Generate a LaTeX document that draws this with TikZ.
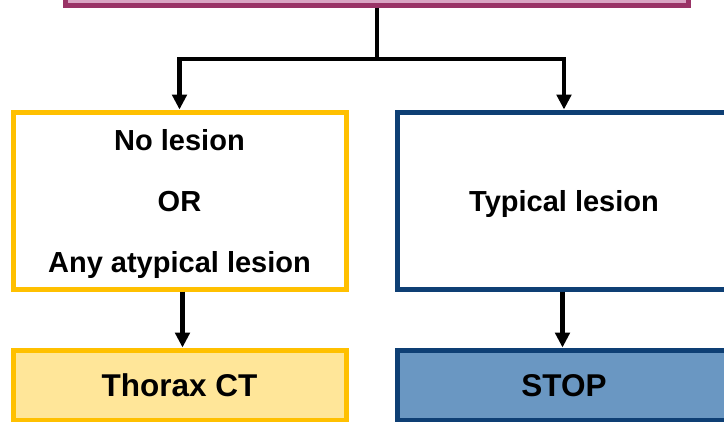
\documentclass[tikz,border=0pt]{standalone}
\usepackage{fontspec}
\setmainfont{Liberation Sans}
\usepackage{tikz}
\usetikzlibrary{positioning,arrows.meta}
\definecolor{pinkframe}{HTML}{993366}
\definecolor{pinkfill}{HTML}{D9A5C3}
\definecolor{yellowframe}{HTML}{FFC000}
\definecolor{yellowfill}{HTML}{FFE699}
\definecolor{blueframe}{HTML}{0E3F74}
\definecolor{bluefill}{HTML}{6A97C2}

\begin{document}
\begin{tikzpicture}[x=1pt,y=-1pt]
      \tikzset{
          every node/.style={align=center, font=\bfseries\fontsize{29}{61}\selectfont},
          headbox/.style={rectangle, draw=pinkframe, fill=pinkfill, line width=5pt, minimum width=623pt, minimum height=60pt},
          finding/.style={rectangle, draw=#1, fill=white, line width=5pt, minimum width=333pt, minimum height=177pt, inner sep=0pt, text depth=0pt},
          outcome/.style={rectangle, draw=#1frame, fill=#1fill, line width=5pt, minimum width=333pt, minimum height=70.5pt, inner sep=0pt, text depth=0pt, font=\bfseries\fontsize{31.5}{38}\selectfont},
          myline/.style={draw, line width=4.5pt},
          myarrow/.style={draw, line width=4.5pt, -{Triangle[length=15pt,width=14.5pt]}},
      }
      \useasboundingbox (0,0) rectangle (724,421);

      \node[headbox] (screen) at (377,-25) {};
      \node[finding=yellowframe] (nolesion) at (179.5,200.5) {No lesion\\OR\\Any atypical lesion};
      \node[finding=blueframe] (typical) at (564,200.5) {Typical lesion};
      \node[outcome=yellow] (thorax) at (179.5,385.25) {Thorax CT};
      \node[outcome=blue] (stop) at (564,385.25) {STOP};
      \coordinate (split) at (377,59);

      \path[myline] (screen.south) -- (split);
      \path[myarrow] (split) -| (nolesion.north);
      \path[myarrow] (split) -| (typical.north);
      \path[myarrow] ([xshift=3pt]nolesion.south) -- ([xshift=3pt]thorax.north);
      \path[myarrow] ([xshift=-1.5pt]typical.south) -- ([xshift=-1.5pt]stop.north);

\end{tikzpicture}
\end{document}
